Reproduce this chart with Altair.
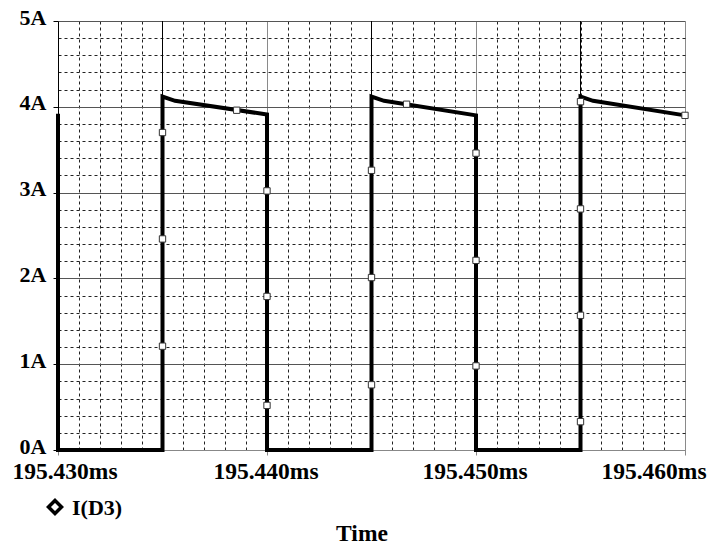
import altair as alt
import pandas as pd

# Diode current I(D3), time in ms, current in A
t_ms = [195.4300, 195.4300, 195.4350, 195.4350, 195.4356, 195.4400, 195.4400,
        195.4450, 195.4450, 195.4456, 195.4500, 195.4500, 195.4550, 195.4550,
        195.4556, 195.4600]
i_amp = [3.92, 0.00, 0.00, 4.12, 4.07, 3.91, 0.00,
         0.00, 4.12, 4.07, 3.90, 0.00, 0.00, 4.12,
         4.07, 3.90]

# Trace marker symbols along the waveform
marker_t = [195.4350, 195.4350, 195.4350, 195.43855, 195.4400, 195.4400, 195.4400,
            195.4450, 195.4450, 195.4450, 195.44668, 195.4500, 195.4500, 195.4500,
            195.4550, 195.4550, 195.4550, 195.4550, 195.4600]
marker_i = [3.70, 2.46, 1.21, 3.96, 3.02, 1.79, 0.52,
            3.26, 2.01, 0.76, 4.03, 3.46, 2.21, 0.98,
            4.06, 2.81, 1.57, 0.33, 3.90]

# Axis ticks
x_major = [195.430, 195.440, 195.450, 195.460]
x_major_text = ["195.430ms", "195.440ms", "195.450ms", "195.460ms"]
x_half = [195.435, 195.445, 195.455]
x_grid = [round(195.430 + k * 0.001, 3) for k in range(31)]
y_grid = [round(k * 0.2, 1) for k in range(26)]

wave = pd.DataFrame({"t": t_ms, "i": i_amp, "k": list(range(len(t_ms)))})
marks = pd.DataFrame({"t": marker_t, "i": marker_i})
labels = pd.DataFrame({"t": x_major, "txt": x_major_text})
half = pd.DataFrame({"t": x_half})

FONT = "Liberation Serif"
X_MAJOR_TEST = "abs(datum.value * 100 - round(datum.value * 100)) < 1e-6"
Y_MAJOR_TEST = "abs(datum.value - round(datum.value)) < 1e-6"

xscale = alt.Scale(domain=[195.430, 195.460], nice=False, zero=False)
yscale = alt.Scale(domain=[0, 5], nice=False)

xaxis = alt.Axis(
    values=x_grid,
    labels=False,
    grid=True,
    gridWidth=1,
    gridColor={"condition": {"test": X_MAJOR_TEST, "value": "#8a8a8a"}, "value": "#222222"},
    gridDash={"condition": {"test": X_MAJOR_TEST, "value": []}, "value": [3, 3]},
    ticks=True,
    tickSize=5,
    tickColor="#888888",
    tickOpacity={"condition": {"test": X_MAJOR_TEST, "value": 1}, "value": 0},
    domainColor="#888888",
    domainWidth=1,
)

yaxis = alt.Axis(
    values=y_grid,
    grid=True,
    gridWidth=1,
    gridColor={"condition": {"test": Y_MAJOR_TEST, "value": "#555555"}, "value": "#222222"},
    gridDash={"condition": {"test": Y_MAJOR_TEST, "value": []}, "value": [3, 3]},
    ticks=True,
    tickSize=5,
    tickColor="#000000",
    tickOpacity={"condition": {"test": Y_MAJOR_TEST, "value": 1}, "value": 0},
    labelExpr="abs(datum.value - round(datum.value)) < 1e-6 ? format(datum.value, 'd') + 'A' : ''",
    labelFont=FONT,
    labelFontSize=22,
    labelFontWeight="bold",
    labelColor="#000000",
    labelPadding=7,
    labelBaseline="alphabetic",
    labelOffset=3,
    domainColor="#000000",
    domainWidth=1,
)

X = alt.X("t:Q", scale=xscale, axis=xaxis, title=None)
Y = alt.Y("i:Q", scale=yscale, axis=yaxis, title=None)

# Solid lines at the half-division times
half_rules = alt.Chart(half).mark_rule(color="#000000", strokeWidth=1).encode(x=X)

trace = alt.Chart(wave).mark_line(
    color="#000000", strokeWidth=4, strokeJoin="miter"
).encode(x=X, y=Y, order="k:Q")

symbols = alt.Chart(marks).mark_point(
    shape="square", size=40, filled=True, fill="#ffffff",
    stroke="#333333", strokeWidth=1, opacity=1
).encode(x=X, y=Y)

def xlab(df, dx):
    return alt.Chart(df).mark_text(
        font=FONT, fontSize=23.5, fontWeight="bold", color="#000000",
        baseline="alphabetic", align="center", dx=dx
    ).encode(x=X, y=alt.value(458), text="txt:N")

lab_first = xlab(labels.iloc[[0]], 7)
lab_mid = xlab(labels.iloc[1:3], -1)
lab_last = xlab(labels.iloc[[3]], -31)

legend_sym = alt.Chart(pd.DataFrame({"s": ["I(D3)"]})).mark_point(
    shape="diamond", size=170, filled=False, color="#000000", strokeWidth=3.5, opacity=1
).encode(x=alt.value(-3), y=alt.value(486))

legend_txt = alt.Chart(pd.DataFrame({"s": ["I(D3)"]})).mark_text(
    font=FONT, fontSize=22, fontWeight="bold", color="#000000",
    align="left", baseline="alphabetic"
).encode(x=alt.value(14), y=alt.value(494), text="s:N")

time_title = alt.Chart(pd.DataFrame({"s": ["Time"]})).mark_text(
    font=FONT, fontSize=23.5, fontWeight="bold", color="#000000",
    align="center", baseline="alphabetic"
).encode(x=alt.value(304), y=alt.value(520), text="s:N")

chart = alt.layer(
    half_rules, trace, symbols, lab_first, lab_mid, lab_last,
    legend_sym, legend_txt, time_title
).properties(
    width=627,
    height=429,
    autosize=alt.AutoSizeParams(type="none"),
    padding={"left": 58, "top": 21, "right": 27, "bottom": 99},
    background="#ffffff",
).configure_view(strokeWidth=0)

chart.save("out.html", embed_options={"renderer": "svg", "actions": False})
